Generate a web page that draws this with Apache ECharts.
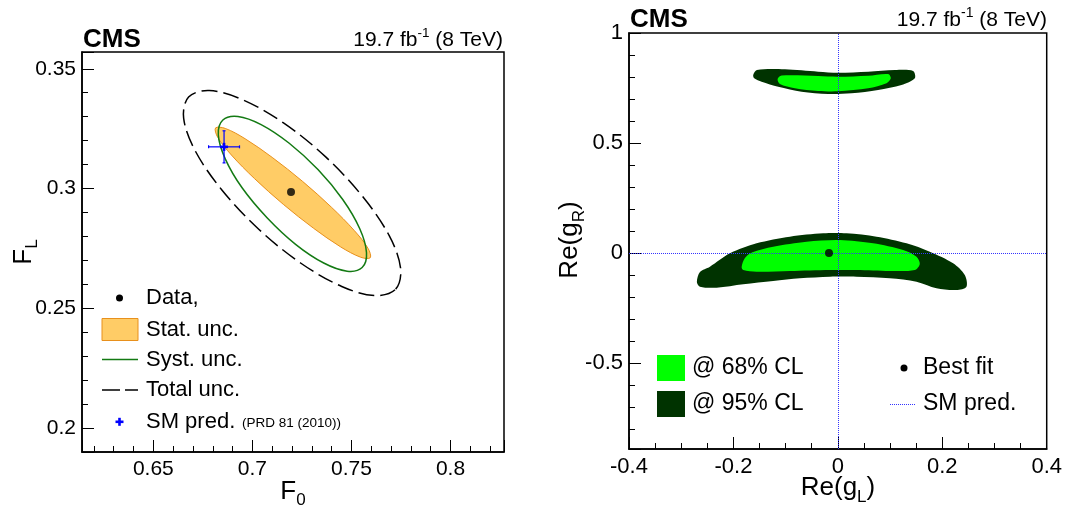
<!DOCTYPE html>
<html><head><meta charset="utf-8">
<script src="https://cdn.jsdelivr.net/npm/echarts@6/dist/echarts.min.js"></script>
<style>html,body{margin:0;padding:0;background:#fff}#c{width:1065px;height:510px}</style>
</head><body><div id="c"></div>
<script>
// ---------------- data ----------------
const f0TickLabels = [0.65, 0.7, 0.75, 0.8];
const flTickLabels = [0.2, 0.25, 0.3, 0.35];
const gLTickLabels = [-0.4, -0.2, 0, 0.2, 0.4];
const gRTickLabels = [-0.5, 0, 0.5, 1];

const dataPoint = [0.7195, 0.2985];          // measured (F0, FL)
const smPred = [0.6857, 0.3174];             // SM prediction (PRD 81 (2010))
const smPredErr = [0.0078, 0.0067];          // SM prediction uncertainty (F0, FL)

const statContour = [[0.7595,0.2711],[0.7584,0.2750],[0.7515,0.2824],[0.7399,0.2922],[0.7253,0.3030],[0.7100,0.3130],[0.6963,0.3208],[0.6863,0.3251],[0.6814,0.3253],[0.6825,0.3214],[0.6894,0.3140],[0.7010,0.3042],[0.7156,0.2934],[0.7309,0.2834],[0.7446,0.2756],[0.7547,0.2713]];
const systContour = [[0.7554,0.2670],[0.7576,0.2732],[0.7542,0.2832],[0.7456,0.2954],[0.7331,0.3079],[0.7186,0.3189],[0.7044,0.3267],[0.6927,0.3301],[0.6851,0.3286],[0.6828,0.3224],[0.6863,0.3124],[0.6948,0.3003],[0.7074,0.2878],[0.7218,0.2767],[0.7360,0.2689],[0.7478,0.2655]];
const totalContour = [[0.7723,0.2580],[0.7748,0.2668],[0.7690,0.2804],[0.7556,0.2967],[0.7370,0.3132],[0.7157,0.3274],[0.6950,0.3371],[0.6782,0.3409],[0.6678,0.3382],[0.6653,0.3294],[0.6711,0.3158],[0.6845,0.2995],[0.7032,0.2830],[0.7245,0.2688],[0.7451,0.2591],[0.7619,0.2553]];

const bestFit = [-0.017, 0.0];
const smCoupling = [0, 0];
const cl95Lower = [[-0.270,-0.132],[-0.2641,-0.0864],[-0.2450,-0.0623],[-0.2067,-0.0014],[-0.1556,0.0441],[-0.0919,0.0741],[-0.0281,0.0895],[0.0167,0.0895],[0.0741,0.0741],[0.1315,0.0441],[0.1761,0.0059],[0.2207,-0.0468],[0.2431,-0.1000],[0.2463,-0.1532],[0.2272,-0.1682],[0.1889,-0.1604],[0.1506,-0.1304],[0.0995,-0.1150],[0.0358,-0.1077],[-0.0153,-0.1077],[-0.0727,-0.1150],[-0.1238,-0.1273],[-0.1812,-0.1423],[-0.2322,-0.1577],[-0.2641,-0.1532]];
const cl68Lower = [[-0.1843,-0.0636],[-0.1780,-0.0227],[-0.1646,0.0023],[-0.1238,0.0286],[-0.0599,0.0514],[0.0038,0.0591],[0.0676,0.0441],[0.1250,0.0136],[0.1506,-0.0168],[0.1569,-0.0500],[0.1474,-0.0773],[0.0995,-0.0818],[0.0358,-0.0773],[-0.0153,-0.0773],[-0.0919,-0.0818],[-0.1556,-0.0850],[-0.1812,-0.0773]];
const cl95Upper = [[-0.1621,0.8091],[-0.1550,0.8318],[-0.1014,0.8350],[-0.0377,0.8241],[0.0006,0.8195],[0.0580,0.8241],[0.1091,0.8318],[0.1441,0.8273],[0.1474,0.7940],[0.1219,0.7636],[0.0771,0.7409],[0.0262,0.7259],[-0.0186,0.7227],[-0.0695,0.7332],[-0.1143,0.7559],[-0.1460,0.7786],[-0.1601,0.7940]];
const cl68Upper = [[-0.1154,0.7909],[-0.1078,0.8068],[-0.0377,0.8045],[0.0006,0.8014],[0.0580,0.8059],[0.0963,0.8136],[0.1014,0.7940],[0.0932,0.7714],[0.0580,0.7486],[0.0006,0.7350],[-0.0377,0.7364],[-0.0823,0.7486],[-0.1110,0.7682]];

// ---------------- styling ----------------
const FONT = '"Liberation Sans", Arial, Helvetica, sans-serif';
const ORANGE_FILL = '#ffcc66', ORANGE_LINE = '#e8901c', SYST_GREEN = '#137a13';
const LIGHT_GREEN = '#00ff00', DARK_GREEN = '#003300', SM_BLUE = '#0000ff', DOT_BLUE = '#3333ff';

const chart = echarts.init(document.getElementById('c'), null, {renderer: 'canvas'});

function fmt(list) {
  return function (v) {
    const r = Math.round(v * 1e6) / 1e6;
    return list.some(t => Math.abs(t - r) < 1e-9) ? String(r) : '';
  };
}
function axisCommon(labels, minorSplit, labelSize, margin) {
  return {
    type: 'value',
    axisLine: {show: true, onZero: false, lineStyle: {color: '#000', width: 1.5}},
    axisTick: {show: true, inside: true, length: 12, lineStyle: {color: '#000', width: 1}},
    minorTick: {show: true, splitNumber: minorSplit, length: 6, lineStyle: {color: '#000', width: 1}},
    splitLine: {show: false},
    axisLabel: {color: '#000', fontSize: labelSize, fontFamily: FONT, margin: margin, formatter: fmt(labels), hideOverlap: false}
  };
}
function polySeries(name, pts, idx, style, z, smooth) {
  return {
    type: 'custom', name: name, xAxisIndex: idx, yAxisIndex: idx, z: z,
    data: pts, encode: {x: 0, y: 1}, silent: true,
    renderItem: function (params, api) {
      if (params.dataIndex !== 0) return null;
      return {type: 'polygon', shape: {points: pts.map(p => api.coord(p)), smooth: smooth}, style: style};
    }
  };
}

// measure text for composite titles (with sub/superscripts)
const mctx = document.createElement('canvas').getContext('2d');
function tw(text, size, bold) { mctx.font = (bold ? 'bold ' : '') + size + 'px ' + FONT; return mctx.measureText(text).width; }
function composite(cx, cy, rot, parts, anchor) {
  const widths = parts.map(p => tw(p.t, p.size, p.bold));
  const total = widths.reduce((a, b) => a + b, 0);
  let x = anchor === 'right' ? -total : anchor === 'left' ? 0 : -total / 2;
  const children = parts.map((p, i) => {
    const el = {type: 'text', x: x, y: p.dy || 0, style: {text: p.t, font: (p.bold ? 'bold ' : '') + p.size + 'px ' + FONT, fill: '#000', textAlign: 'left', textVerticalAlign: 'middle', align: 'left', verticalAlign: 'middle'}};
    x += widths[i];
    return el;
  });
  return {type: 'group', x: cx, y: cy, rotation: rot, children: children, silent: true};
}
function txt(x, y, text, size, opts) {
  opts = opts || {};
  return {type: 'text', x: x, y: y, silent: true, style: {text: text, font: (opts.bold ? 'bold ' : '') + size + 'px ' + FONT, fill: '#000', textAlign: opts.align || 'left', textVerticalAlign: 'middle', align: opts.align || 'left', verticalAlign: 'middle'}};
}

const graphics = [
  // left header
  txt(83, 40, 'CMS', 26, {bold: true}),
  composite(503, 40, 0, [{t: '19.7 fb', size: 21}, {t: '-1', size: 13.5, dy: -7}, {t: ' (8 TeV)', size: 21}], 'right'),
  // right header
  txt(630, 20, 'CMS', 26, {bold: true}),
  composite(1047, 20, 0, [{t: '19.7 fb', size: 21}, {t: '-1', size: 14, dy: -7}, {t: ' (8 TeV)', size: 21}], 'right'),
  // axis titles
  composite(293, 492, 0, [{t: 'F', size: 26}, {t: '0', size: 17, dy: 8}], 'center'),
  composite(24, 252, Math.PI / 2, [{t: 'F', size: 26}, {t: 'L', size: 17, dy: 8}], 'center'),
  composite(838, 488, 0, [{t: 'Re(g', size: 26}, {t: 'L', size: 17, dy: 9}, {t: ')', size: 26}], 'center'),
  composite(570, 240, Math.PI / 2, [{t: 'Re(g', size: 26}, {t: 'R', size: 17, dy: 9}, {t: ')', size: 26}], 'center'),
  // left legend
  {type: 'circle', shape: {cx: 119.5, cy: 298, r: 3.5}, style: {fill: '#000'}, silent: true},
  txt(146, 298, 'Data,', 22),
  {type: 'rect', shape: {x: 102, y: 318.5, width: 36, height: 22}, style: {fill: ORANGE_FILL, stroke: ORANGE_LINE, lineWidth: 1}, silent: true},
  txt(146, 329.5, 'Stat. unc.', 22),
  {type: 'line', shape: {x1: 102, y1: 359.5, x2: 138, y2: 359.5}, style: {stroke: SYST_GREEN, lineWidth: 1.5}, silent: true},
  txt(146, 359.5, 'Syst. unc.', 22),
  {type: 'line', shape: {x1: 102, y1: 390, x2: 138, y2: 390}, style: {stroke: '#000', lineWidth: 1.5, lineDash: [18, 5]}, silent: true},
  txt(146, 390, 'Total unc.', 22),
  {type: 'rect', shape: {x: 115.5, y: 420.5, width: 8, height: 2.6}, style: {fill: SM_BLUE}, silent: true},
  {type: 'rect', shape: {x: 118.2, y: 417.8, width: 2.6, height: 8}, style: {fill: SM_BLUE}, silent: true},
  txt(146, 421.5, 'SM pred.', 22),
  txt(242, 423, '(PRD 81 (2010))', 13.5),
  // right legend
  {type: 'rect', shape: {x: 657, y: 355, width: 28, height: 26}, style: {fill: LIGHT_GREEN}, silent: true},
  {type: 'rect', shape: {x: 657, y: 391, width: 28, height: 26}, style: {fill: DARK_GREEN}, silent: true},
  txt(692, 368, '@ 68% CL', 23),
  txt(692, 404, '@ 95% CL', 23),
  {type: 'circle', shape: {cx: 904, cy: 368, r: 3.5}, style: {fill: '#000'}, silent: true},
  txt(923, 368, 'Best fit', 23),
  {type: 'line', shape: {x1: 890, y1: 404.5, x2: 916, y2: 404.5}, style: {stroke: DOT_BLUE, lineWidth: 1, lineDash: [1, 1]}, silent: true},
  txt(923, 404, 'SM pred.', 23)
];

const option = {
  animation: false,
  backgroundColor: '#fff',
  grid: [
    {left: 82, top: 52, width: 422, height: 400, show: true, borderColor: '#000', borderWidth: 1.5, backgroundColor: 'transparent'},
    {left: 629, top: 33, width: 418, height: 416, show: true, borderColor: '#000', borderWidth: 1.5, backgroundColor: 'transparent'}
  ],
  xAxis: [
    Object.assign(axisCommon(f0TickLabels, 5, 21, 7), {gridIndex: 0, min: 0.614, max: 0.827, splitNumber: 5}),
    Object.assign(axisCommon(gLTickLabels, 4, 22, 7), {gridIndex: 1, min: -0.4, max: 0.4, interval: 0.2})
  ],
  yAxis: [
    Object.assign(axisCommon(flTickLabels, 5, 21, 6), {gridIndex: 0, min: 0.19, max: 0.357, splitNumber: 4}),
    Object.assign(axisCommon(gRTickLabels, 5, 22, 6), {gridIndex: 1, min: -0.891, max: 1, splitNumber: 4})
  ],
  series: [
    polySeries('Stat. unc.', statContour, 0, {fill: ORANGE_FILL, stroke: ORANGE_LINE, lineWidth: 1}, 2, 0.34),
    polySeries('Syst. unc.', systContour, 0, {fill: 'none', stroke: SYST_GREEN, lineWidth: 1.5}, 3, 0.34),
    polySeries('Total unc.', totalContour, 0, {fill: 'none', stroke: '#000', lineWidth: 1.5, lineDash: [16, 6]}, 3, 0.34),
    {
      type: 'scatter', name: 'Data', xAxisIndex: 0, yAxisIndex: 0, z: 5, silent: true,
      data: [dataPoint], symbol: 'circle', symbolSize: 8, itemStyle: {color: '#000'}
    },
    {
      type: 'custom', name: 'SM pred.', xAxisIndex: 0, yAxisIndex: 0, z: 6, silent: true,
      data: [[smPred[0], smPred[1], smPredErr[0], smPredErr[1]]], encode: {x: 0, y: 1},
      renderItem: function (params, api) {
        const x = api.value(0), y = api.value(1), ex = api.value(2), ey = api.value(3);
        const c = api.coord([x, y]), l = api.coord([x - ex, y]), r = api.coord([x + ex, y]);
        const t = api.coord([x, y + ey]), b = api.coord([x, y - ey]);
        const st = {stroke: SM_BLUE, lineWidth: 1.2};
        return {type: 'group', children: [
          {type: 'line', shape: {x1: l[0], y1: l[1], x2: r[0], y2: r[1]}, style: st},
          {type: 'line', shape: {x1: t[0], y1: t[1], x2: b[0], y2: b[1]}, style: st},
          {type: 'line', shape: {x1: l[0], y1: l[1] - 1.5, x2: l[0], y2: l[1] + 1.5}, style: st},
          {type: 'line', shape: {x1: r[0], y1: r[1] - 1.5, x2: r[0], y2: r[1] + 1.5}, style: st},
          {type: 'line', shape: {x1: t[0] - 1.5, y1: t[1], x2: t[0] + 1.5, y2: t[1]}, style: st},
          {type: 'line', shape: {x1: b[0] - 1.5, y1: b[1], x2: b[0] + 1.5, y2: b[1]}, style: st},
          {type: 'rect', shape: {x: c[0] - 4, y: c[1] - 1.3, width: 8, height: 2.6}, style: {fill: SM_BLUE}},
          {type: 'rect', shape: {x: c[0] - 1.3, y: c[1] - 4, width: 2.6, height: 8}, style: {fill: SM_BLUE}}
        ]};
      }
    },
    polySeries('@ 95% CL (upper)', cl95Upper, 1, {fill: DARK_GREEN}, 2, 0.3),
    polySeries('@ 95% CL (lower)', cl95Lower, 1, {fill: DARK_GREEN}, 2, 0.3),
    polySeries('@ 68% CL (upper)', cl68Upper, 1, {fill: LIGHT_GREEN}, 3, 0.3),
    polySeries('@ 68% CL (lower)', cl68Lower, 1, {fill: LIGHT_GREEN}, 3, 0.3),
    {
      type: 'scatter', name: 'SM pred. lines', xAxisIndex: 1, yAxisIndex: 1, z: 4, silent: true,
      data: [smCoupling], symbolSize: 0,
      markLine: {
        silent: true, symbol: ['none', 'none'], label: {show: false}, animation: false,
        lineStyle: {color: DOT_BLUE, width: 1, type: 'dotted', opacity: 1},
        emphasis: {disabled: true},
        data: [
          {xAxis: smCoupling[0], lineStyle: {color: DOT_BLUE, width: 1, type: 'dotted'}},
          {yAxis: smCoupling[1], lineStyle: {color: DOT_BLUE, width: 1, type: 'dotted'}}
        ]
      }
    },
    {
      type: 'scatter', name: 'Best fit', xAxisIndex: 1, yAxisIndex: 1, z: 5, silent: true,
      data: [bestFit], symbol: 'circle', symbolSize: 8, itemStyle: {color: '#000'}
    }
  ],
  graphic: graphics
};
chart.setOption(option);
</script>
</body></html>
